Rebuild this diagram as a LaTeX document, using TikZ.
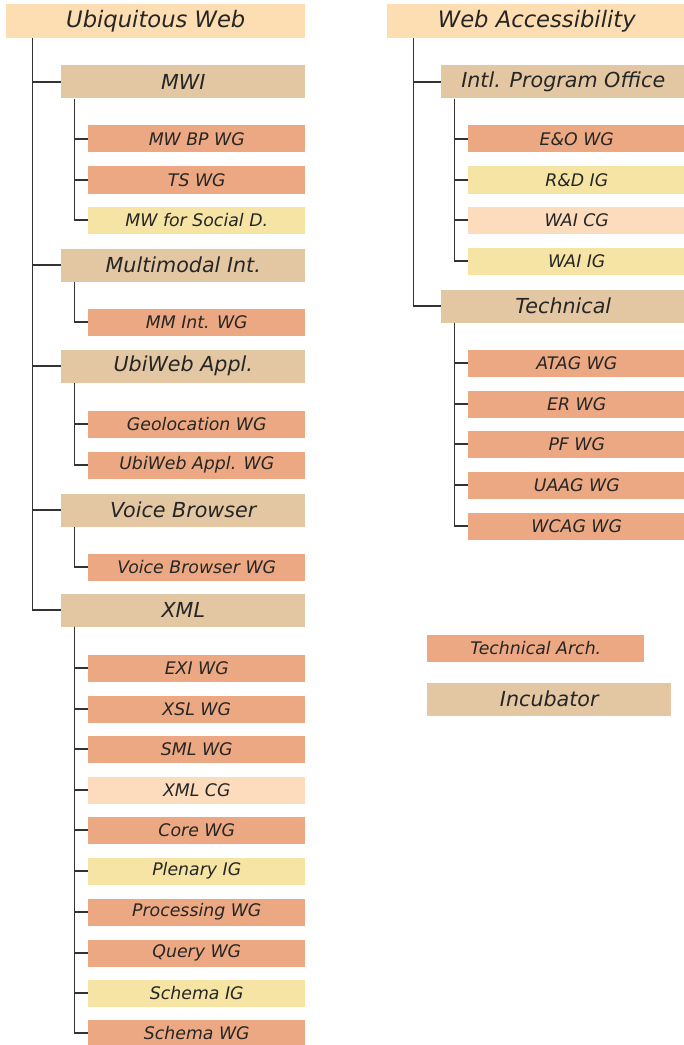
\documentclass[tikz,border=0pt]{standalone}
\usepackage{fontspec}
\setmainfont{DejaVu Sans}
\definecolor{areac}{HTML}{FDDDB2}
\definecolor{grpc}{HTML}{E3C7A2}
\definecolor{wgc}{HTML}{ECA882}
\definecolor{igc}{HTML}{F5E4A3}
\definecolor{cgc}{HTML}{FDDCBD}
\tikzset{
  box/.style={rectangle, inner sep=0pt, anchor=west, text=black!85},
  area/.style={box, fill=areac, minimum width=224.25pt, minimum height=25.5pt, font=\fontsize{17}{20}\selectfont\itshape},
  grp/.style={box, fill=grpc, minimum width=183pt, minimum height=24.75pt, font=\fontsize{15.5}{18}\selectfont\itshape},
  leaf/.style={box, minimum width=162.75pt, minimum height=20.25pt, font=\fontsize{13}{16}\selectfont\itshape},
  wg/.style={fill=wgc}, ig/.style={fill=igc}, cg/.style={fill=cgc},
  link/.style={draw=black!80, line width=1pt}
}
\begin{document}
\begin{tikzpicture}[x=0.75pt,y=-0.75pt]
\useasboundingbox (0,0) rectangle (684,1045);
% Ubiquitous Web
\node[area] (uw) at (6,21) {Ubiquitous Web};
\node[grp] (mwi) at (61,82) {MWI};
\node[grp] (mm) at (61,265) {Multimodal Int.};
\node[grp] (ubi) at (61,366) {UbiWeb Appl.};
\node[grp] (vb) at (61,510) {Voice Browser};
\node[grp] (xml) at (61,610) {XML};
\foreach \g in {mwi,mm,ubi,vb,xml}
  \draw[link] ([xshift=20pt]uw.south west) |- (\g.west);
\foreach \n/\t/\c/\y in {mwbp/MW BP WG/wg/139, ts/TS WG/wg/180, social/MW for Social D./ig/220}{
  \node[leaf,\c] (\n) at (88,\y) {\t};
  \draw[link] ([xshift=10pt]mwi.south west) |- (\n.west);
}
\node[leaf,wg] (mmwg) at (88,322) {MM Int. WG};
\draw[link] ([xshift=10pt]mm.south west) |- (mmwg.west);
\foreach \n/\t/\c/\y in {geo/Geolocation WG/wg/424, ubiwg/UbiWeb Appl. WG/wg/465}{
  \node[leaf,\c] (\n) at (88,\y) {\t};
  \draw[link] ([xshift=10pt]ubi.south west) |- (\n.west);
}
\node[leaf,wg] (vbwg) at (88,567) {Voice Browser WG};
\draw[link] ([xshift=10pt]vb.south west) |- (vbwg.west);
\foreach \n/\t/\c/\y in {exi/EXI WG/wg/668, xsl/XSL WG/wg/709, sml/SML WG/wg/749, xmlcg/XML CG/cg/790,
    core/Core WG/wg/830, plen/Plenary IG/ig/871, proc/Processing WG/wg/912, query/Query WG/wg/953,
    schig/Schema IG/ig/993, schwg/Schema WG/wg/1033}{
  \node[leaf,\c] (\n) at (88,\y) {\t};
  \draw[link] ([xshift=10pt]xml.south west) |- (\n.west);
}
% Web Accessibility
\node[area] (wa) at (387,21) {Web Accessibility};
\node[grp] (ipo) at (441,82) {Intl. Program Office};
\node[grp] (tech) at (441,306) {Technical};
\foreach \g in {ipo,tech}
  \draw[link] ([xshift=20pt]wa.south west) |- (\g.west);
\foreach \n/\t/\c/\y in {eo/E\&O WG/wg/139, rd/R\&D IG/ig/180, waicg/WAI CG/cg/220, waiig/WAI IG/ig/261}{
  \node[leaf,\c] (\n) at (468,\y) {\t};
  \draw[link] ([xshift=10pt]ipo.south west) |- (\n.west);
}
\foreach \n/\t/\c/\y in {atag/ATAG WG/wg/363, er/ER WG/wg/404, pf/PF WG/wg/444, uaag/UAAG WG/wg/485, wcag/WCAG WG/wg/526}{
  \node[leaf,\c] (\n) at (468,\y) {\t};
  \draw[link] ([xshift=10pt]tech.south west) |- (\n.west);
}
% legend
\node[leaf,wg] (tarch) at (427,648) {Technical Arch.};
\node[grp] (incub) at (427,699) {Incubator};
\end{tikzpicture}
\end{document}
